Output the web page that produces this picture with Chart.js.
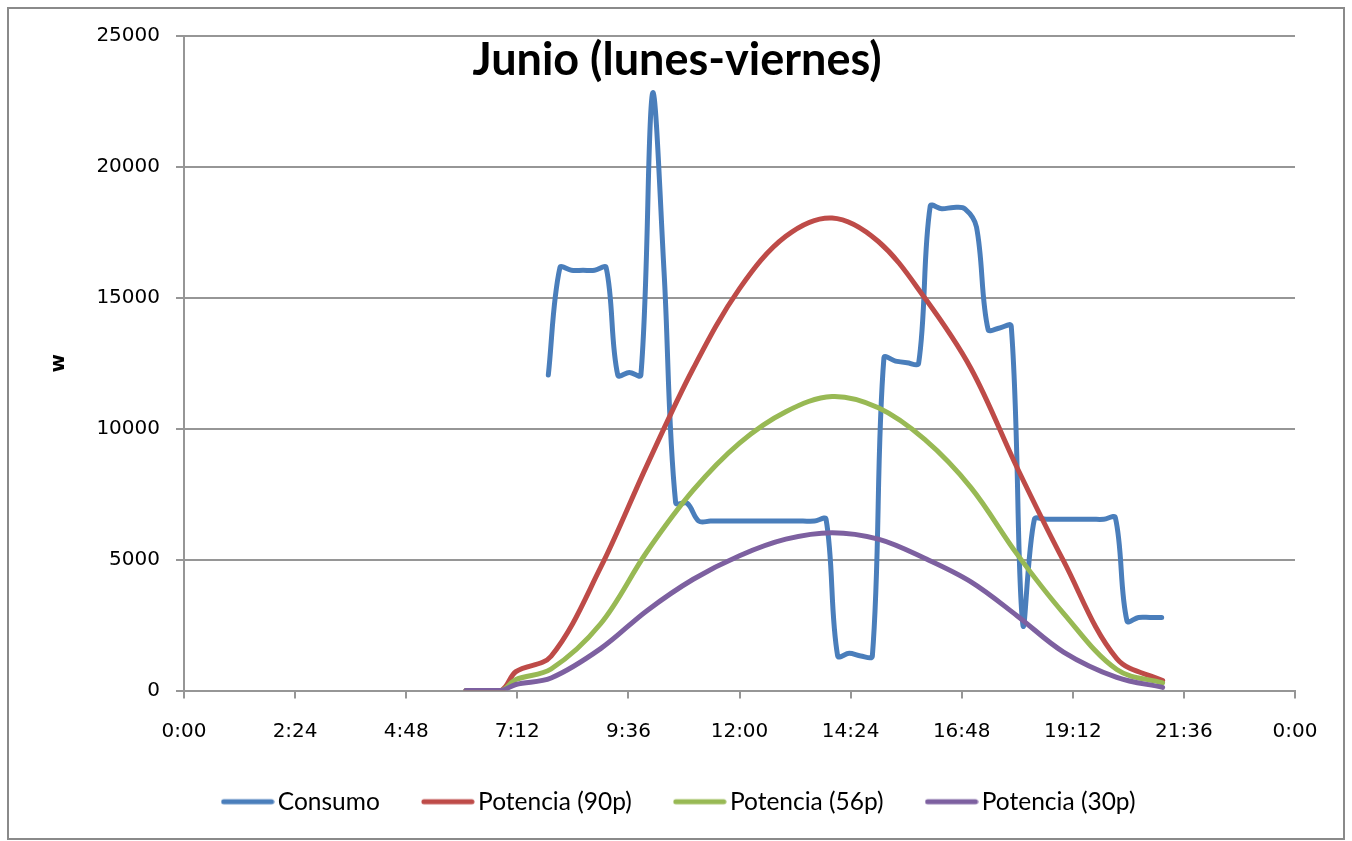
<!DOCTYPE html>
<html lang="es">
<head>
<meta charset="UTF-8">
<title>Junio (lunes-viernes)</title>
<script src="https://cdn.jsdelivr.net/npm/chart.js@4"></script>
<style>
  body { margin: 0; background: #fff; }
  #wrap { width: 1352px; height: 841px; }
</style>
</head>
<body>
<div id="wrap"><canvas id="chart"></canvas></div>
<script>
// valores: hora del dia (decimal) y vatios
const titulo = 'Junio (lunes-viernes)';
const nombres = ['Consumo', 'Potencia (90p)', 'Potencia (56p)', 'Potencia (30p)'];
const colores = ['#4A7EBB', '#BE4B48', '#98B954', '#7D60A0'];

const consumoHoras = [7.87, 8.12, 8.37, 8.62, 8.87, 9.12, 9.37, 9.62, 9.87, 10.12,
  10.37, 10.62, 10.87, 11.12, 11.37, 11.62, 11.87, 12.12, 12.37, 12.62,
  12.87, 13.12, 13.37, 13.62, 13.87, 14.12, 14.37, 14.62, 14.87, 15.12,
  15.37, 15.62, 15.87, 16.12, 16.37, 16.62, 16.87, 17.12, 17.37, 17.62,
  17.87, 18.12, 18.37, 18.62, 18.87, 19.12, 19.37, 19.62, 19.87, 20.12,
  20.37, 20.62, 20.87, 21.12];
const consumoW = [12050, 16150, 16050, 16050, 16050, 16150, 12050, 12150, 12050, 22800,
  16000, 7180, 7150, 6470, 6470, 6470, 6470, 6470, 6470, 6470,
  6470, 6470, 6470, 6470, 6540, 1320, 1420, 1320, 1320, 12710,
  12580, 12520, 12500, 18500, 18400, 18450, 18400, 17700, 13790, 13850,
  13920, 2530, 6540, 6540, 6540, 6540, 6540, 6540, 6540, 6600,
  2660, 2790, 2790, 2790];

const potenciaHoras = [6.09, 6.85, 7.17, 7.93, 9, 10, 11, 12, 13, 14, 15, 16, 17, 18, 19, 20.15, 21.14];
const potencia90 = [0, 0, 720, 1310, 4700, 8600, 12300, 15350, 17350, 18050, 17150, 15000, 12300, 8500, 4950, 1220, 380];
const potencia56 = [0, 0, 420, 820, 2550, 5300, 7650, 9450, 10650, 11230, 10800, 9590, 7750, 5200, 2950, 800, 290];
const potencia30 = [0, 0, 230, 480, 1600, 3050, 4250, 5150, 5780, 6030, 5780, 5050, 4150, 2850, 1470, 500, 120];

function puntos(xs, ys) {
  return xs.map((x, i) => ({ x: x, y: ys[i] }));
}

function horaLabel(v) {
  const m = Math.round(v * 60) % 1440;
  return Math.floor(m / 60) + ':' + String(m % 60).padStart(2, '0');
}

// muestra de linea para la leyenda
function muestra(color) {
  const c = document.createElement('canvas');
  c.width = 54; c.height = 8;
  const g = c.getContext('2d');
  g.strokeStyle = color; g.lineWidth = 5; g.lineCap = 'round';
  g.beginPath(); g.moveTo(3, 4); g.lineTo(51, 4); g.stroke();
  return c;
}

const series = [
  puntos(consumoHoras, consumoW),
  puntos(potenciaHoras, potencia90),
  puntos(potenciaHoras, potencia56),
  puntos(potenciaHoras, potencia30)
];

const datasets = series.map((d, i) => ({
  label: nombres[i],
  data: d,
  borderColor: colores[i],
  backgroundColor: colores[i],
  borderWidth: 5,
  borderCapStyle: 'round',
  borderJoinStyle: 'round',
  pointRadius: 0,
  pointStyle: muestra(colores[i]),
  tension: 0.35,
  fill: false,
  order: 4 - i
}));

const gris = '#969696';
const fuenteEjes = { family: 'DejaVu Sans', size: 20 };

const extras = {
  id: 'extras',
  afterLayout(chart) {
    chart.legend.left += 35;
    chart.legend.right += 35;
  },
  afterDraw(chart) {
    const c = chart.ctx;
    c.save();
    c.font = 'bold 45px Lato';
    c.fillStyle = '#000';
    c.textAlign = 'center';
    c.textBaseline = 'alphabetic';
    c.fillText(titulo, 677, 75);
    c.strokeStyle = '#8a8a8a';
    c.lineWidth = 2;
    c.strokeRect(8, 8, 1336, 831);
    c.restore();
  }
};

new Chart(document.getElementById('chart'), {
  type: 'line',
  data: { datasets: datasets },
  plugins: [extras],
  options: {
    responsive: true,
    maintainAspectRatio: false,
    animation: false,
    layout: { padding: { top: 36, right: 57, bottom: 17, left: 0 } },
    plugins: {
      title: { display: false },
      tooltip: { enabled: false },
      legend: {
        position: 'bottom',
        labels: {
          usePointStyle: true,
          pointStyleWidth: 36,
          padding: 50,
          color: '#000',
          font: { family: 'Lato', size: 24.5 },
          sort: (a, b) => a.datasetIndex - b.datasetIndex
        }
      }
    },
    scales: {
      x: {
        type: 'linear',
        min: 0,
        max: 24,
        ticks: { stepSize: 2.4, padding: 21, color: '#000', font: fuenteEjes, callback: horaLabel, maxRotation: 0, autoSkip: false },
        grid: { drawOnChartArea: false, color: gris, lineWidth: 2, tickLength: 8 },
        border: { color: gris, width: 2 },
        afterFit(s) { s.height = 49; }
      },
      y: {
        min: 0,
        max: 25000,
        ticks: { stepSize: 5000, padding: 16, color: '#000', font: fuenteEjes, callback: v => String(v) },
        grid: { color: gris, lineWidth: 2, tickLength: 8 },
        border: { color: gris, width: 2 },
        title: { display: true, text: 'w', color: '#000', font: { family: 'DejaVu Sans', size: 20, weight: 'bold' }, padding: { top: 47, bottom: 0 } },
        afterFit(s) { s.width = 184; }
      }
    }
  }
});
</script>
</body>
</html>
